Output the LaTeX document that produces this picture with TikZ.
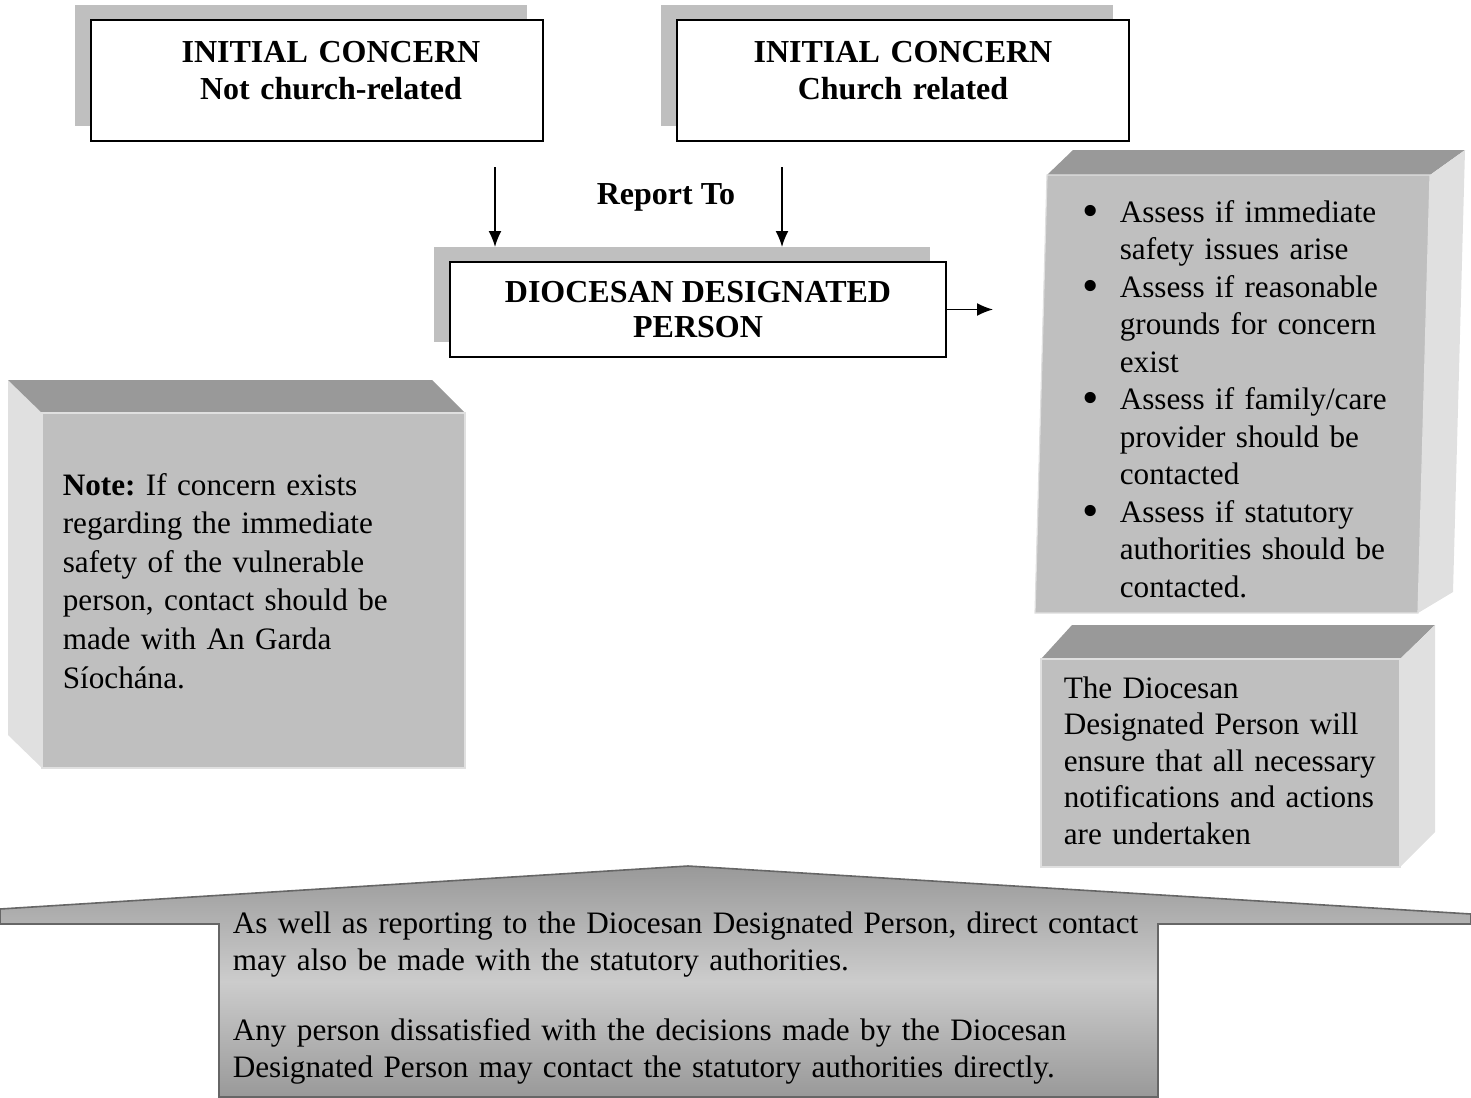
\documentclass[tikz,border=0pt]{standalone}
\usepackage{fontspec}
\setmainfont{Liberation Serif}
\usetikzlibrary{arrows.meta,shadows}

\newcommand{\bul}[1]{\noindent\hangindent=18.5pt\hangafter=1\makebox[18.5pt][l]{\raisebox{-0.14em}{\scalebox{1.5}{\textbullet}}}#1\par}

\begin{document}
\frenchspacing
\begin{tikzpicture}[x=0.5pt, y=-0.5pt, thick,
    concern/.style = {draw, fill=white, minimum width=226pt, minimum height=60.5pt,
      general shadow={fill=black!25, shadow xshift=-8pt, shadow yshift=7.5pt}},
    txt/.style = {inner sep=0pt, anchor=base west, align=left},
    front/.style = {fill=black!25, draw=black!12, line width=0.6pt},
    lid/.style = {fill=black!40},
    side/.style = {fill=black!12},
    arr/.style = {-{Latex[length=8pt,width=6.5pt]}}]
\useasboundingbox (0,0) rectangle (1471,1097);

% the two starting boxes
\node[concern] (nc) at (317,80.5) {};
\node[concern] (cr) at (903,80.5) {};
\node[txt, anchor=base, text width=226pt, align=center, font=\fontsize{16}{18.5}\selectfont\bfseries] (nct) at (331,63) {INITIAL CONCERN\\Not church-related};
\node[txt, anchor=base, text width=226pt, align=center, font=\fontsize{16}{18.5}\selectfont\bfseries] (crt) at (903,63) {INITIAL CONCERN\\Church related};

% designated person
\node[concern, minimum width=248pt, minimum height=47.5pt, align=center, font=\fontsize{16}{17.5}\selectfont\bfseries] (ddp) at (698,309.5) {DIOCESAN DESIGNATED\\PERSON};
\node[anchor=base, inner sep=0pt, font=\fontsize{16}{18}\selectfont\bfseries] (rep) at (666,204) {Report To};

\coordinate (a1) at (495,167);
\coordinate (b1) at (495,247);
\coordinate (a2) at (782,167);
\coordinate (b2) at (782,247);
\coordinate (r) at (993,309.5);
\draw[arr] (a1) -- (b1);
\draw[arr] (a2) -- (b2);
\draw[arr] (ddp.east) -- (r);

% note block
\fill[side] (8,380) -- (42,413) -- (42,768) -- (8,735) -- cycle;
\fill[lid] (8,380) -- (432,380) -- (465,413) -- (42,413) -- cycle;
\filldraw[front] (42,413) rectangle (465,768);
\node[txt, text width=180pt, font=\fontsize{15.6}{19.3}\selectfont] (note) at (62,495) {\textbf{Note:} If concern exists\\regarding the immediate\\safety of the vulnerable\\person, contact should be\\made with An Garda\\Síochána.};

% assessment block
\fill[lid] (1073,150) -- (1465,150) -- (1430,175) -- (1047,175) -- cycle;
\fill[side] (1430,175) -- (1465,150) -- (1453,592) -- (1418,613) -- cycle;
\filldraw[front] (1047,175) -- (1430,175) -- (1418,613) -- (1035,613) -- cycle;
\node[txt, text width=180pt, font=\fontsize{15.6}{18.75}\selectfont] (tasks) at (1082,222) {%
  \bul{Assess if immediate\newline safety issues arise}%
  \bul{Assess if reasonable\newline grounds for concern\newline exist}%
  \bul{Assess if family/care\newline provider should be\newline contacted}%
  \bul{Assess if statutory\newline authorities should be\newline contacted.}};

% ensure block
\fill[lid] (1072,625) -- (1435,625) -- (1400,659) -- (1041,659) -- cycle;
\fill[side] (1400,659) -- (1435,625) -- (1435,832) -- (1400,867) -- cycle;
\filldraw[front] (1041,659) rectangle (1400,867);
\node[txt, text width=180pt, font=\fontsize{15.6}{18.25}\selectfont] (ensure) at (1063,698) {The Diocesan\\Designated Person will\\ensure that all necessary\\notifications and actions\\are undertaken};

% bottom callout
\draw[draw=black!60, line width=0.8pt, top color=black!40, bottom color=black!40, middle color=black!20]
  (0,909) -- (688,866) -- (1471,914) -- (1471,924) -- (1158,924) -- (1158,1097)
  -- (219,1097) -- (219,924) -- (0,924) -- cycle;
\node[txt, text width=480pt, font=\fontsize{15.6}{18.5}\selectfont] (direct) at (232,933) {As well as reporting to the Diocesan Designated Person, direct contact\\may also be made with the statutory authorities.\\[16.5pt]Any person dissatisfied with the decisions made by the Diocesan\\Designated Person may contact the statutory authorities directly.};
\end{tikzpicture}
\end{document}
